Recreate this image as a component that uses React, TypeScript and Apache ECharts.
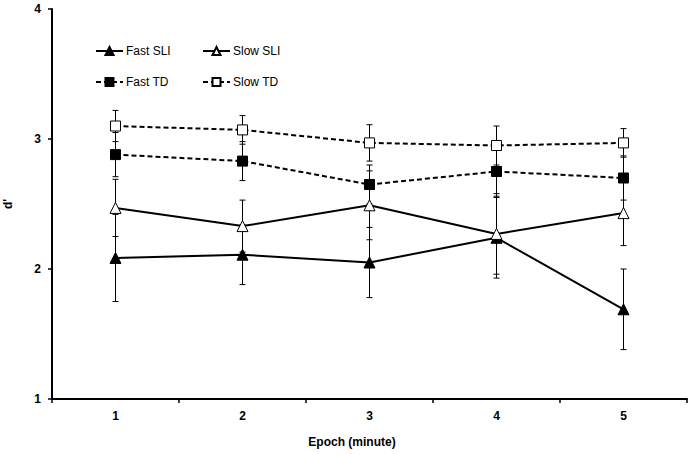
import React, { useEffect, useRef } from "react";
import * as echarts from "echarts";

const epochs = ["1", "2", "3", "4", "5"];
const fastSLI = [2.085, 2.11, 2.05, 2.24, 1.69];
const fastSLIErr = [0.335, 0.23, 0.27, 0.31, 0.31];
const slowSLI = [2.47, 2.33, 2.49, 2.27, 2.43];
const slowSLIErr = [0.22, 0.2, 0.265, 0.31, 0.25];
const fastTD = [2.88, 2.83, 2.65, 2.75, 2.7];
const fastTDErr = [0.17, 0.15, 0.15, 0.19, 0.17];
const slowTD = [3.1, 3.07, 2.97, 2.95, 2.97];
const slowTDErr = [0.12, 0.11, 0.14, 0.15, 0.11];
const yTicks = [1, 2, 3, 4];

const FONT = "'Liberation Sans', Arial, sans-serif";

function errData(vals: number[], errs: number[]) {
  return vals.map((v, i) => [i, v - errs[i], v + errs[i]]);
}

function errSeries(name: string, vals: number[], errs: number[]) {
  return {
    type: "custom",
    name: name + " err",
    z: 1,
    silent: true,
    encode: { x: 0, y: [1, 2] },
    data: errData(vals, errs),
    renderItem: (params: any, api: any) => {
      const x = api.value(0);
      const lo = api.coord([x, api.value(1)]);
      const hi = api.coord([x, api.value(2)]);
      const w = 3;
      const style = { stroke: "#000", lineWidth: 1 };
      return {
        type: "group",
        children: [
          { type: "line", shape: { x1: lo[0], y1: lo[1], x2: hi[0], y2: hi[1] }, style },
          { type: "line", shape: { x1: lo[0] - w, y1: lo[1], x2: lo[0] + w, y2: lo[1] }, style },
          { type: "line", shape: { x1: hi[0] - w, y1: hi[1], x2: hi[0] + w, y2: hi[1] }, style },
        ],
      };
    },
  };
}

function lineSeries(name: string, vals: number[], symbol: string, filled: boolean, dashed: boolean, size: number) {
  return {
    type: "line",
    name,
    z: 3,
    data: vals,
    symbol,
    symbolSize: size,
    showAllSymbol: true,
    lineStyle: { color: "#000", width: 2, type: dashed ? [5, 3] : "solid" },
    itemStyle: { color: filled ? "#000" : "#fff", borderColor: "#000", borderWidth: 1 },
  };
}

function legend(name: string, left: number, top: number) {
  return {
    data: [name],
    left,
    top,
    padding: 0,
    itemWidth: 27,
    itemHeight: 10,
    itemGap: 3,
    textStyle: { fontFamily: FONT, fontSize: 12, color: "#000", padding: [0, 0, 0, -2] },
    selectedMode: false,
  };
}

export default function App() {
  const ref = useRef<HTMLDivElement>(null);
  useEffect(() => {
    if (!ref.current) return;
    const chart = echarts.init(ref.current, null, { renderer: "svg" });
    chart.setOption({
      animation: false,
      backgroundColor: "#fff",
      grid: { left: 52, right: 2, top: 9, bottom: 55, containLabel: false, outerBoundsMode: "none" },
      legend: [
        legend("Fast SLI", 95, 45),
        legend("Slow SLI", 202, 45),
        legend("Fast TD", 95, 76),
        legend("Slow TD", 202, 76),
      ],
      xAxis: {
        type: "category",
        data: epochs,
        boundaryGap: true,
        name: "Epoch (minute)",
        nameLocation: "middle",
        nameGap: 37,
        nameTextStyle: { fontFamily: FONT, fontSize: 12, fontWeight: "bold", color: "#000", padding: [0, 35, 0, 0] },
        axisLine: { lineStyle: { color: "#000", width: 2 } },
        axisTick: { show: true, length: 4, lineStyle: { color: "#000", width: 1.5 }, alignWithLabel: false },
        axisLabel: { fontFamily: FONT, fontSize: 12, fontWeight: "bold", color: "#000", margin: 11 },
        splitLine: { show: false },
      },
      yAxis: {
        type: "value",
        min: yTicks[0],
        max: yTicks[yTicks.length - 1],
        interval: 1,
        name: "d'",
        nameLocation: "middle",
        nameRotate: 90,
        nameGap: 38,
        nameTextStyle: { fontFamily: FONT, fontSize: 12, fontWeight: "bold", color: "#000" },
        axisLine: { show: true, lineStyle: { color: "#000", width: 2 } },
        axisTick: { show: true, length: 4, lineStyle: { color: "#000", width: 1.5 } },
        axisLabel: { fontFamily: FONT, fontSize: 12, fontWeight: "bold", color: "#000", margin: 11 },
        splitLine: { show: false },
      },
      series: [
        errSeries("Fast SLI", fastSLI, fastSLIErr),
        errSeries("Slow SLI", slowSLI, slowSLIErr),
        errSeries("Fast TD", fastTD, fastTDErr),
        errSeries("Slow TD", slowTD, slowTDErr),
        lineSeries("Fast SLI", fastSLI, "triangle", true, false, 11),
        lineSeries("Slow SLI", slowSLI, "triangle", false, false, 11),
        lineSeries("Fast TD", fastTD, "rect", true, true, 10),
        lineSeries("Slow TD", slowTD, "rect", false, true, 10),
      ],
    });
    return () => chart.dispose();
  }, []);
  return <div ref={ref} style={{ width: 689, height: 454, position: "absolute", left: 0, top: 0 }} />;
}
